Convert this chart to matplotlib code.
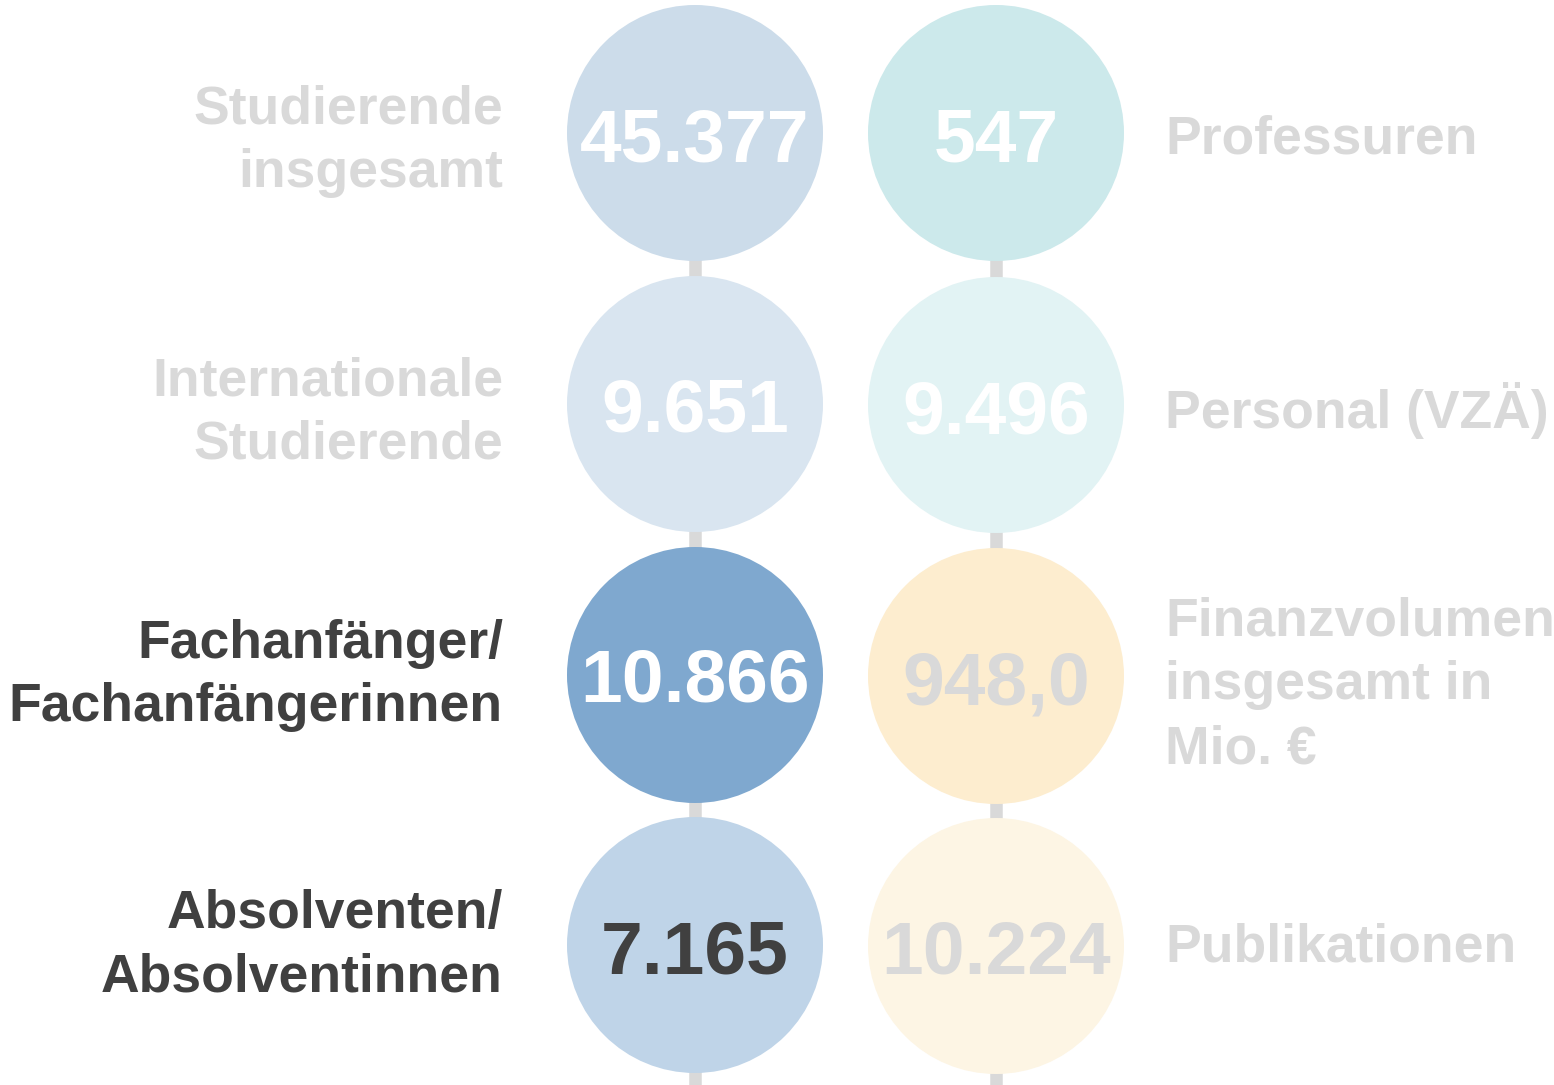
import matplotlib.pyplot as plt
from matplotlib.patches import Circle

# data
left_labels = ["Studierende\ninsgesamt", "Internationale\nStudierende",
               "Fachanfänger/\nFachanfängerinnen", "Absolventen/\nAbsolventinnen"]
left_values = ["45.377", "9.651", "10.866", "7.165"]
right_labels = ["Professuren", "Personal (VZÄ)",
                "Finanzvolumen\ninsgesamt in\nMio. €", "Publikationen"]
right_values = ["547", "9.496", "948,0", "10.224"]

# styles
left_fill = ["#CCDCEA", "#D9E5F0", "#7FA8CF", "#BFD4E8"]
right_fill = ["#CCE9EB", "#E2F3F4", "#FDEDCF", "#FDF5E4"]
left_num_col = ["white", "white", "white", "#404040"]
right_num_col = ["white", "white", "#D9D9D9", "#D9D9D9"]
left_lab_col = ["#D9D9D9", "#D9D9D9", "#404040", "#404040"]
right_lab_col = ["#D9D9D9"] * 4

# layout (pixels, y downwards)
xl, xr = 695, 996
rows_l = [133, 404, 675, 945]
rows_r = [133, 405, 676, 946]
r = 128
num_base_l = [161, 432, 702, 974]
num_base_r = [161, 433, 705, 973]
lab_base_l = [124, 395, 658, 928]
lab_base_r = [153, 428, 636, 961]
line_gap = 63.5

plt.rcParams['font.family'] = ['Liberation Sans', 'DejaVu Sans']

fig = plt.figure(figsize=(15.54, 10.85), dpi=100)
ax = fig.add_axes([0, 0, 1, 1])
ax.set_xlim(0, 1554)
ax.set_ylim(1085, 0)
ax.set_aspect('equal')
ax.axis('off')

# connectors
for x in (xl, xr):
    ax.plot([x, x], [rows_l[0], 1085], color="#D9D9D9", lw=9, zorder=1,
            solid_capstyle='butt')

for i in range(4):
    ax.add_patch(Circle((xl, rows_l[i]), r, color=left_fill[i], zorder=2, lw=0))
    ax.add_patch(Circle((xr, rows_r[i]), r, color=right_fill[i], zorder=2, lw=0))
    ax.text(xl, num_base_l[i], left_values[i], ha='center', va='baseline',
            fontsize=54, fontweight='bold', color=left_num_col[i], zorder=3)
    ax.text(xr, num_base_r[i], right_values[i], ha='center', va='baseline',
            fontsize=54, fontweight='bold', color=right_num_col[i], zorder=3)
    for k, line in enumerate(left_labels[i].split("\n")):
        ax.text(503, lab_base_l[i] + k * line_gap, line, ha='right',
                va='baseline', fontsize=38.5, fontweight='bold',
                color=left_lab_col[i])
    for k, line in enumerate(right_labels[i].split("\n")):
        ax.text(1165, lab_base_r[i] + k * line_gap, line, ha='left',
                va='baseline', fontsize=38.5, fontweight='bold',
                color=right_lab_col[i])

fig.savefig("out.png", dpi=100)
